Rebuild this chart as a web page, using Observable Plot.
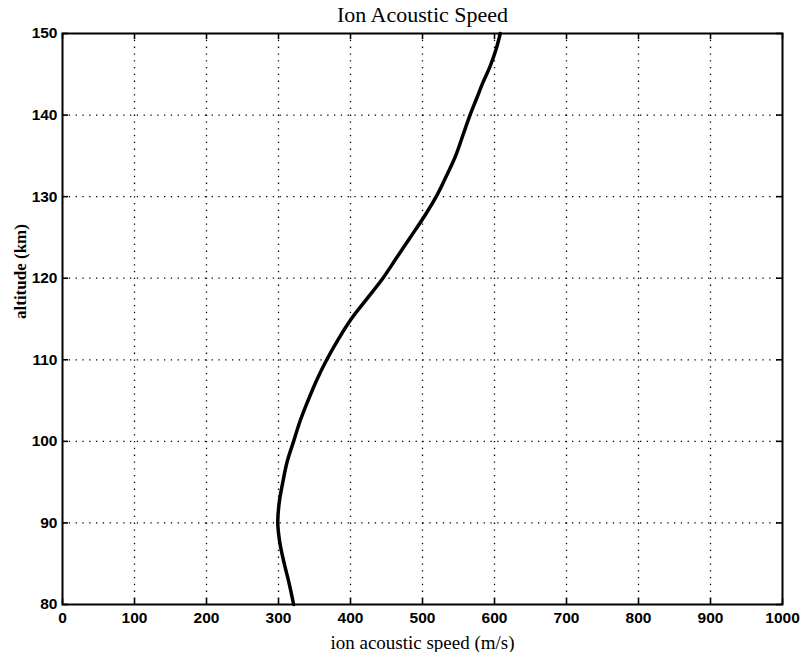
<!DOCTYPE html>
<html><head><meta charset="utf-8">
<script src="https://cdn.jsdelivr.net/npm/d3@7"></script>
<script src="https://cdn.jsdelivr.net/npm/@observablehq/plot@0.6"></script>
<style>body{margin:0;background:#fff}</style>
</head><body><div id="chart"></div>
<script>
const altitude = [80, 82.5, 85, 87.5, 90, 92.5, 95, 97.5, 100, 102.5, 105, 107.5, 110, 112.5, 115, 117.5, 120, 122.5, 125, 127.5, 130, 132.5, 135, 137.5, 140, 142, 144, 146, 148, 150];
const speed    = [321, 315, 308, 302, 299, 301, 306, 312, 321, 330, 341, 353, 367, 383, 401, 423, 445, 464, 483, 502, 519, 533, 546, 556, 566, 575, 584, 594, 602, 608];
const xTicks = [0,100,200,300,400,500,600,700,800,900,1000];
const yTicks = [80,90,100,110,120,130,140,150];
const data = altitude.map((a,i)=>({alt:a, v:speed[i]}));

const W = 804, H = 652, mL = 62, mR = 22, mT = 33, mB = 48;
const innerW = W - mL - mR, innerH = H - mT - mB, tk = 6;
const sans = "'Liberation Sans', Arial, sans-serif";
const serif = "'Liberation Serif', 'Times New Roman', serif";
const fmt = d3.format("d");
const tickStyle = {stroke:"#000", strokeWidth:1.6};
const plot = Plot.plot({
  width: W, height: H,
  marginLeft: mL, marginRight: mR, marginTop: mT, marginBottom: mB,
  style: {background:"#fff", color:"#000"},
  x: {domain:[0,1000], ticks: xTicks},
  y: {domain:[80,150], ticks: yTicks},
  marks: [
    Plot.gridX(xTicks.slice(1,-1), {stroke:"#000", strokeOpacity:1, strokeWidth:1.3, strokeDasharray:"1.3,5.5"}),
    Plot.gridY(yTicks.slice(1,-1), {stroke:"#000", strokeOpacity:1, strokeWidth:1.3, strokeDasharray:"1.3,5.5"}),
    // inward tick marks
    Plot.tickX(xTicks, {x:d=>d, insetTop: innerH - tk, ...tickStyle}),
    Plot.tickX(xTicks, {x:d=>d, insetBottom: innerH - tk, ...tickStyle}),
    Plot.tickY(yTicks, {y:d=>d, insetRight: innerW - tk, ...tickStyle}),
    Plot.tickY(yTicks, {y:d=>d, insetLeft: innerW - tk, ...tickStyle}),
    // tick labels
    Plot.axisX(xTicks, {anchor:"bottom", tickSize:0, tickPadding:7, tickFormat:fmt, fontSize:15.5, fontWeight:"bold", fontFamily:sans, label:null}),
    Plot.axisY(yTicks, {anchor:"left", tickSize:0, tickPadding:5, tickFormat:fmt, fontSize:15.5, fontWeight:"bold", fontFamily:sans, label:null}),
    Plot.frame({stroke:"#000", strokeWidth:2}),
    Plot.line(data, {x:"v", y:"alt", stroke:"#000", strokeWidth:3.5, curve:"catmull-rom"}),
    Plot.text(["Ion Acoustic Speed"], {frameAnchor:"top", dy:-12, lineAnchor:"bottom", fontSize:22, fontFamily:serif, fill:"#000"}),
    Plot.text(["ion acoustic speed (m/s)"], {frameAnchor:"bottom", dy:44, lineAnchor:"bottom", fontSize:19, fontFamily:serif, fill:"#000"}),
    Plot.text(["altitude (km)"], {frameAnchor:"left", dx:-42, rotate:-90, fontSize:17, fontWeight:"bold", fontFamily:serif, fill:"#000"})
  ]
});
document.getElementById("chart").appendChild(plot);
</script>
</body></html>
